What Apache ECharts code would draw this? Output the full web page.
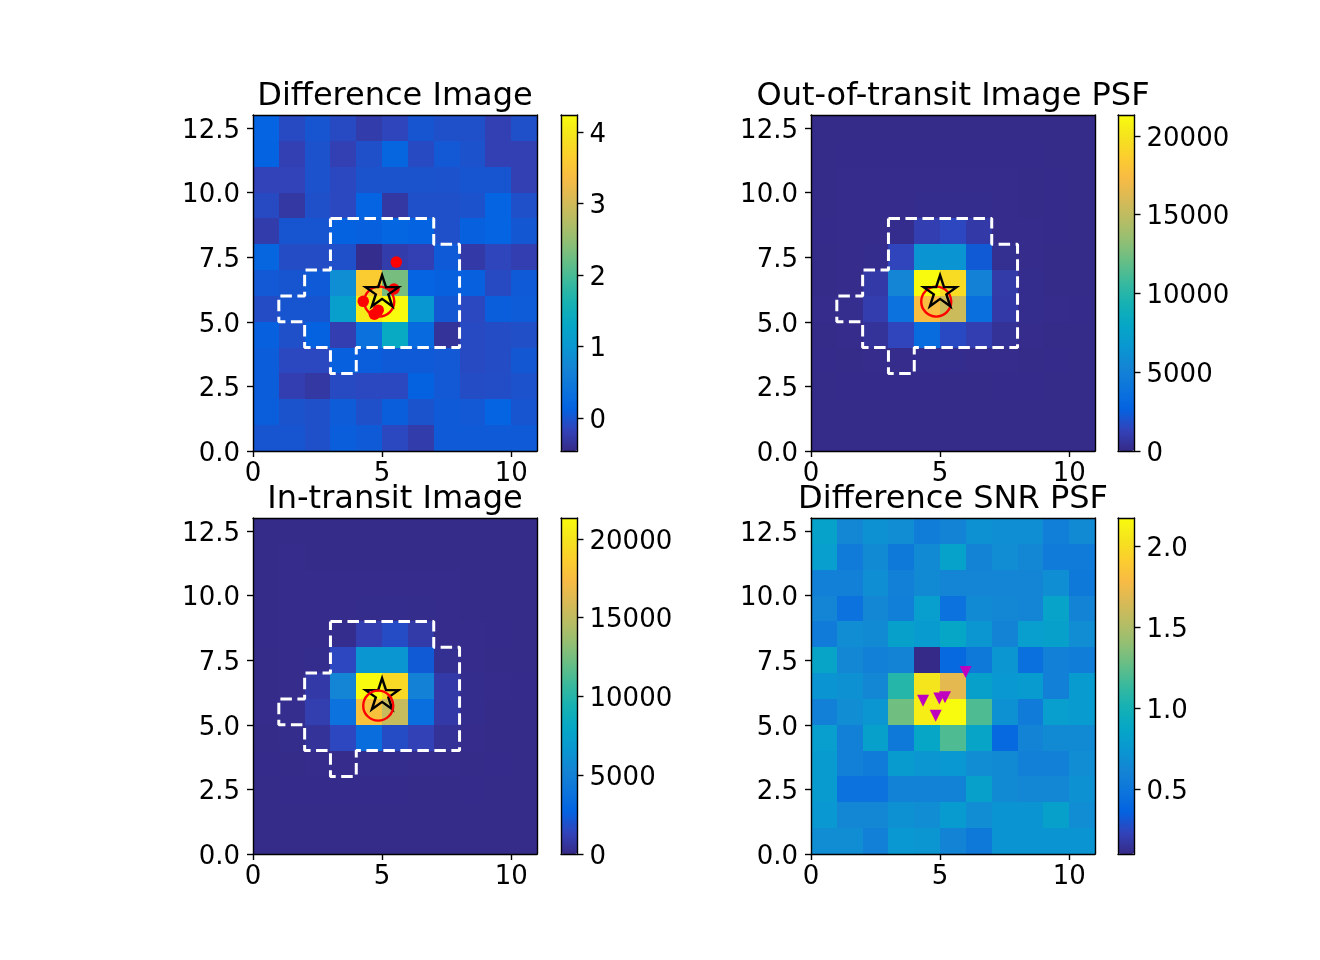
<!DOCTYPE html>
<html><head><meta charset="utf-8">
<style>html,body{margin:0;padding:0;background:#fff}#c{width:1320px;height:960px}</style>
<script src="https://cdn.jsdelivr.net/npm/echarts@6/dist/echarts.min.js"></script>
</head><body><div id="c"></div>
<script>
const titles = ['Difference Image','Out-of-transit Image PSF','In-transit Image','Difference SNR PSF'];
const xTicks = [0,5,10];
const yTicks = [0,2.5,5,7.5,10,12.5];
const cbarRanges = [[-0.46,4.24],[0,21330],[0,21330],[0.1,2.173]];
const cbarTicks = [[0,1,2,3,4],[0,5000,10000,15000,20000],[0,5000,10000,15000,20000],[0.5,1,1.5,2]];
const parula = ['#352a87','#3243ba','#0363e1','#0d75dc','#1485d4','#0998d1','#06a7c6','#15b1b4','#38b99e','#65be86','#92bf73','#b7bd64','#d9ba56','#f8bb44','#fcce2e','#f5e41d','#f9fb0e'];

// rows listed top (y=12) to bottom (y=0)
const diffValues = [
[0.15,-0.1,0,-0.1,-0.25,-0.15,0,-0.05,-0.05,-0.2,-0.05],
[0.13,-0.2,-0.03,-0.2,-0.05,0.18,-0.1,0.03,-0.03,-0.2,-0.2],
[-0.18,-0.18,-0.03,-0.12,-0.02,-0.02,-0.02,-0.03,0,0,-0.2],
[-0.1,-0.3,-0.05,-0.12,0.15,-0.3,-0.05,-0.05,-0.03,0.15,-0.05],
[-0.25,0,0,0.12,0.1,0.17,0.13,-0.05,0.1,0.15,0.02],
[0.18,-0.08,-0.08,-0.05,-0.42,-0.25,-0.2,0.05,-0.28,-0.15,-0.22],
[0.03,0,0.05,0.85,3.6,2.3,0.15,0.1,0.1,-0.1,0.05],
[-0.08,0,0,1.15,4.05,4.24,1.0,0.02,-0.12,0.08,0.06],
[0.1,-0.05,0.12,-0.22,0.35,1.35,0.25,-0.35,-0.1,-0.08,-0.06],
[0.07,-0.12,-0.12,0.1,0.08,0.05,0.05,0.03,-0.1,-0.08,0.02],
[0.07,-0.22,-0.3,-0.1,-0.12,-0.12,0.12,0.03,-0.08,-0.07,-0.03],
[0.08,-0.02,-0.05,0.06,-0.05,0.08,-0.02,0.05,0.03,0.15,0],
[0,0,-0.05,0.08,0.05,-0.12,-0.25,0.05,0.05,0.05,0.05]];
const outValues = [
[60,60,60,60,60,60,60,60,60,60,60],
[60,70,70,70,70,70,70,70,70,60,60],
[60,120,110,110,130,130,120,110,90,70,60],
[60,130,120,120,160,170,150,120,90,70,60],
[70,110,120,150,1100,1500,800,110,100,70,60],
[80,110,150,1400,6400,6400,2300,300,130,80,60],
[90,130,800,5300,21330,19500,5000,900,170,90,60],
[100,200,1000,3800,17500,15500,3500,800,170,100,70],
[90,120,500,1400,3300,1600,1100,400,130,80,60],
[70,90,100,100,150,150,130,110,90,70,60],
[60,70,70,70,70,80,80,70,70,60,60],
[60,60,60,60,60,60,60,60,60,60,60],
[60,60,60,60,60,60,60,60,60,60,60]];
const inValues = [
[60,60,60,60,60,60,60,60,60,60,60],
[60,100,90,90,90,90,90,90,60,60,60],
[60,130,110,110,110,110,110,100,80,60,60],
[60,130,120,120,140,150,140,120,80,60,60],
[70,110,120,150,1100,1700,900,110,110,70,60],
[80,110,170,1500,6500,6500,2300,300,130,80,60],
[90,130,800,5300,21330,19300,5000,800,170,100,70],
[100,210,1050,3800,17800,15300,3500,800,170,90,60],
[90,140,500,1500,3400,1700,1200,400,130,80,60],
[70,90,110,110,150,150,130,110,90,70,60],
[60,70,70,70,70,70,90,90,70,60,60],
[60,60,60,60,60,60,60,60,60,60,60],
[60,60,60,60,60,60,60,60,60,60,60]];
const snrValues = [
[0.83,0.63,0.7,0.67,0.55,0.6,0.7,0.68,0.68,0.56,0.65],
[0.8,0.54,0.65,0.52,0.65,0.83,0.6,0.67,0.63,0.54,0.54],
[0.58,0.58,0.68,0.58,0.65,0.62,0.62,0.62,0.62,0.68,0.52],
[0.62,0.47,0.63,0.56,0.8,0.47,0.65,0.63,0.61,0.84,0.6],
[0.54,0.67,0.65,0.82,0.77,0.87,0.73,0.6,0.8,0.82,0.67],
[0.85,0.63,0.58,0.6,0.1,0.4,0.52,0.73,0.45,0.58,0.55],
[0.72,0.7,0.63,1.07,2.05,1.7,0.82,0.75,0.77,0.58,0.77],
[0.58,0.67,0.73,1.3,2.1,2.173,1.2,0.7,0.54,0.8,0.77],
[0.8,0.58,0.82,0.52,0.88,1.2,0.85,0.4,0.6,0.65,0.65],
[0.77,0.58,0.54,0.78,0.73,0.75,0.67,0.65,0.58,0.58,0.67],
[0.77,0.47,0.47,0.59,0.59,0.59,0.82,0.65,0.63,0.63,0.7],
[0.75,0.63,0.63,0.7,0.67,0.77,0.67,0.72,0.72,0.82,0.67],
[0.67,0.67,0.58,0.75,0.73,0.6,0.52,0.72,0.72,0.72,0.72]];

const aperture = [[3,9],[7,9],[7,8],[8,8],[8,4],[4,4],[4,3],[3,3],[3,4],[2,4],[2,5],[1,5],[1,6],[2,6],[2,7],[3,7],[3,9]];
const starPoint = [5.0,6.2];
const circlePoints = [[4.89,5.78],[4.85,5.78],[4.85,5.74]];
const redDots = [[5.55,7.31],[5.46,6.27],[4.27,5.79],[4.7,5.29],[4.85,5.45]];
const triangles = [[5.99,7.04],[4.34,5.93],[4.97,6.02],[5.19,6.06],[4.83,5.35]];

const STAR = 'path://M100 0 L122.5 69.1 L195.1 69.1 L136.3 111.8 L158.8 180.9 L100 138.2 L41.2 180.9 L63.7 111.8 L4.9 69.1 L77.5 69.1 Z';
const FONT = 'DejaVu Sans';
const panelData = [diffValues,outValues,inValues,snrValues];
const lefts = [253,811,253,811], tops = [115,115,518,518];
const cbLefts = [561,1118,561,1118];
const PW = 284, PH = 336, CW = 16.5;

const grid=[], xAxis=[], yAxis=[], series=[], visualMap=[], title=[];
const axisLine = {show:true,onZero:false,lineStyle:{color:'#000',width:1.4}};
const tick = {show:true,length:6,lineStyle:{color:'#000',width:1.4}};
const labX = {color:'#000',fontFamily:FONT,fontSize:26,margin:10};
const labY = {color:'#000',fontFamily:FONT,fontSize:26,margin:13,verticalAlign:'top',padding:[-10,0,0,0]};

function fmt1(v){return v.toFixed(1);}
function renderCell(params,api){
  const x=api.value(0), y=api.value(1);
  const a=api.coord([x,y]), b=api.coord([x+1,y+1]);
  const x0=Math.round(a[0]),x1=Math.round(b[0]),y0=Math.round(b[1]),y1=Math.round(a[1]);
  return {type:'rect',shape:{x:x0,y:y0,width:x1-x0,height:y1-y0},style:{fill:api.visual('color')}};
}

panelData.forEach((rows,i)=>{
  const L=lefts[i],T=tops[i];
  title.push({text:titles[i],left:L+PW/2,top:T-34,textAlign:'center',padding:0,itemGap:0,
    textStyle:{color:'#000',fontFamily:FONT,fontSize:32,fontWeight:'normal'}});
  const g=grid.length;
  grid.push({left:L,top:T,width:PW,height:PH,containLabel:false});
  const xi=xAxis.length, yi=yAxis.length;
  xAxis.push({type:'value',gridIndex:g,min:0,max:11,position:'bottom',z:5,axisLine,axisTick:{...tick,customValues:xTicks},
    axisLabel:{...labX,customValues:xTicks},splitLine:{show:false}});
  xAxis.push({type:'value',gridIndex:g,min:0,max:11,position:'top',z:5,axisLine,axisTick:{show:false},axisLabel:{show:false},splitLine:{show:false}});
  yAxis.push({type:'value',gridIndex:g,min:0,max:13,position:'left',z:5,axisLine,axisTick:{...tick,customValues:yTicks},
    axisLabel:{...labY,customValues:yTicks,formatter:fmt1},splitLine:{show:false}});
  yAxis.push({type:'value',gridIndex:g,min:0,max:13,position:'right',z:5,axisLine,axisTick:{show:false},axisLabel:{show:false},splitLine:{show:false}});

  const cells=[];
  rows.forEach((r,ri)=>r.forEach((v,c)=>cells.push([c,rows.length-1-ri,v])));
  const cellIdx=series.length;
  series.push({type:'custom',name:titles[i],xAxisIndex:xi,yAxisIndex:yi,data:cells,renderItem:renderCell,
    encode:{x:0,y:1},z:1,silent:true,animation:false});
  visualMap.push({type:'continuous',seriesIndex:cellIdx,dimension:2,min:cbarRanges[i][0],max:cbarRanges[i][1],
    left:cbLefts[i],top:T,itemWidth:CW,itemHeight:PH,padding:0,calculable:false,realtime:false,hoverLink:false,
    showLabel:false,text:null,inRange:{color:parula},borderWidth:0,orient:'vertical'});

  if(i<3) series.push({type:'line',xAxisIndex:xi,yAxisIndex:yi,data:aperture,showSymbol:false,symbol:'none',z:3,silent:true,animation:false,
    lineStyle:{color:'#fff',width:3,type:[11.5,5.5]}});
  if(i===0) series.push({type:'scatter',xAxisIndex:xi,yAxisIndex:yi,data:redDots,symbol:'circle',symbolSize:11.5,z:4,silent:true,animation:false,itemStyle:{color:'#ff0000',opacity:1}});
  if(i===3) series.push({type:'scatter',xAxisIndex:xi,yAxisIndex:yi,data:triangles,symbol:'triangle',symbolRotate:180,symbolSize:[12,12],z:4,silent:true,animation:false,itemStyle:{color:'#bf00bf',opacity:1}});
  if(i<3){
    series.push({type:'scatter',xAxisIndex:xi,yAxisIndex:yi,data:[circlePoints[i]],symbol:'circle',symbolSize:30,z:i===2?7:5,silent:true,animation:false,
      itemStyle:{color:'none',borderColor:'#ff0000',borderWidth:2.4,opacity:1}});
    series.push({type:'scatter',xAxisIndex:xi,yAxisIndex:yi,data:[starPoint],symbol:STAR,symbolSize:[33,31],z:6,silent:true,animation:false,
      itemStyle:{color:'none',borderColor:'#000',borderWidth:2.4,opacity:1}});
  }

  // colour bar axis
  const cg=grid.length;
  grid.push({left:cbLefts[i],top:T,width:CW,height:PH});
  xAxis.push({type:'value',gridIndex:cg,min:0,max:1,position:'bottom',z:5,axisLine,axisTick:{show:false},axisLabel:{show:false},splitLine:{show:false}});
  xAxis.push({type:'value',gridIndex:cg,min:0,max:1,position:'top',z:5,axisLine,axisTick:{show:false},axisLabel:{show:false},splitLine:{show:false}});
  yAxis.push({type:'value',gridIndex:cg,min:cbarRanges[i][0],max:cbarRanges[i][1],position:'right',z:5,axisLine,
    axisTick:{...tick,customValues:cbarTicks[i]},
    axisLabel:{...labY,margin:12,customValues:cbarTicks[i],formatter:v=>i===3?v.toFixed(1):String(Math.round(v)).replace('-','\u2212')},splitLine:{show:false}});
  yAxis.push({type:'value',gridIndex:cg,min:cbarRanges[i][0],max:cbarRanges[i][1],position:'left',z:5,axisLine,axisTick:{show:false},axisLabel:{show:false},splitLine:{show:false}});
});

const chart=echarts.init(document.getElementById('c'),null,{renderer:'canvas',width:1320,height:960});
chart.setOption({backgroundColor:'#fff',animation:false,title,grid,xAxis,yAxis,visualMap,series});
</script></body></html>
